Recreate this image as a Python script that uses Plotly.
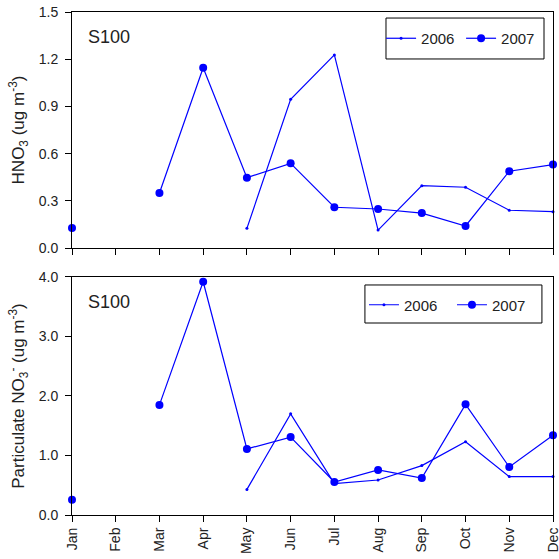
import plotly.graph_objects as go

months = ["Jan", "Feb", "Mar", "Apr", "May", "Jun", "Jul", "Aug", "Sep", "Oct", "Nov", "Dec"]

hno3_2006 = [None, None, None, None, 0.125, 0.945, 1.227, 0.114, 0.396, 0.386, 0.240, 0.231]
hno3_2007 = [0.127, None, 0.350, 1.146, 0.447, 0.538, 0.259, 0.248, 0.222, 0.140, 0.488, 0.530]

pno3_2006 = [None, None, None, None, 0.43, 1.70, 0.527, 0.588, 0.83, 1.23, 0.645, 0.645]
pno3_2007 = [0.257, None, 1.85, 3.92, 1.11, 1.31, 0.555, 0.757, 0.62, 1.86, 0.807, 1.34]

hno3_ticks = [0.0, 0.3, 0.6, 0.9, 1.2, 1.5]
pno3_ticks = [0.0, 1.0, 2.0, 3.0, 4.0]

BLUE = "#0000FF"
FONT = "Liberation Sans, Arial, sans-serif"

fig = go.Figure()

def add(y, name, big, xa, ya, leg):
    fig.add_trace(go.Scatter(
        x=months, y=y, name=name, mode="lines+markers",
        line=dict(color=BLUE, width=1.2),
        marker=dict(color=BLUE, size=8 if big else 3, symbol="circle"),
        xaxis=xa, yaxis=ya, legend=leg, showlegend=True, connectgaps=False,
        cliponaxis=False,
    ))

add(hno3_2006, "2006", False, "x", "y", "legend")
add(hno3_2007, "2007", True, "x", "y", "legend")
add(pno3_2006, "2006", False, "x2", "y2", "legend2")
add(pno3_2007, "2007", True, "x2", "y2", "legend2")

top_dom = [0.5308, 1.0]
bot_dom = [0.0, 0.4732]

axcommon = dict(showline=True, linecolor="black", linewidth=1, mirror=True,
                showgrid=False, zeroline=False, ticks="outside", ticklen=6,
                tickcolor="black", automargin=False, ticklabeloverflow="allow",
                tickfont=dict(size=14, color="#222", family=FONT))

legfont = dict(size=15, family=FONT, color="#222")

fig.update_layout(
    width=559, height=559,
    margin=dict(l=72, r=6, t=12, b=44, autoexpand=False),
    paper_bgcolor="white", plot_bgcolor="white",
    font=dict(family=FONT, color="#222"),
    xaxis=dict(domain=[0, 1], anchor="y", type="category", categoryorder="array",
               categoryarray=months, range=[0, 11], showticklabels=False, **axcommon),
    yaxis=dict(domain=top_dom, anchor="x", range=[0, 1.5], tickvals=hno3_ticks,
               ticktext=[f"{v:.1f}" for v in hno3_ticks], ticklabelstandoff=4,
               title=dict(text="HNO<sub>3</sub> (ug m<sup>-3</sup>)", font=dict(size=17), standoff=9),
               **axcommon),
    xaxis2=dict(domain=[0, 1], anchor="y2", type="category", categoryorder="array",
                categoryarray=months, range=[0, 11], tickangle=-90, **axcommon),
    yaxis2=dict(domain=bot_dom, anchor="x2", range=[0, 4.0], tickvals=pno3_ticks,
                ticktext=[f"{v:.1f}" for v in pno3_ticks], ticklabelstandoff=4,
                title=dict(text="Particulate NO<sub>3</sub><sup>-</sup> (ug m<sup>-3</sup>)", font=dict(size=17), standoff=9),
                **axcommon),
    legend=dict(x=0.6426, y=0.9473, xanchor="left", yanchor="middle", orientation="h",
                borderwidth=0, bgcolor="rgba(0,0,0,0)",
                font=legfont, entrywidth=35, itemwidth=30, tracegroupgap=0),
    legend2=dict(x=0.607, y=0.4175, xanchor="left", yanchor="middle", orientation="h",
                 borderwidth=0, bgcolor="rgba(0,0,0,0)",
                 font=legfont, entrywidth=43, itemwidth=30, tracegroupgap=0),
    shapes=[
        dict(type="rect", xref="paper", yref="paper", x0=0.6528, x1=0.9813, y0=0.9066, y1=0.988,
             line=dict(color="black", width=1), fillcolor="white", layer="below"),
        dict(type="rect", xref="paper", yref="paper", x0=0.609, x1=0.977, y0=0.3817, y1=0.4573,
             line=dict(color="black", width=1), fillcolor="white", layer="below"),
    ],
    annotations=[
        dict(text="S100", x=0.03, y=0.9503, xref="paper", yref="paper", xanchor="left",
             yanchor="middle", showarrow=False, font=dict(size=18, family=FONT, color="#222")),
        dict(text="S100", x=0.03, y=0.4235, xref="paper", yref="paper", xanchor="left",
             yanchor="middle", showarrow=False, font=dict(size=18, family=FONT, color="#222")),
    ],
)

fig.write_html("out.html", config={"displayModeBar": False},
               post_script="document.body.style.margin='0';document.body.style.overflow='hidden';")
